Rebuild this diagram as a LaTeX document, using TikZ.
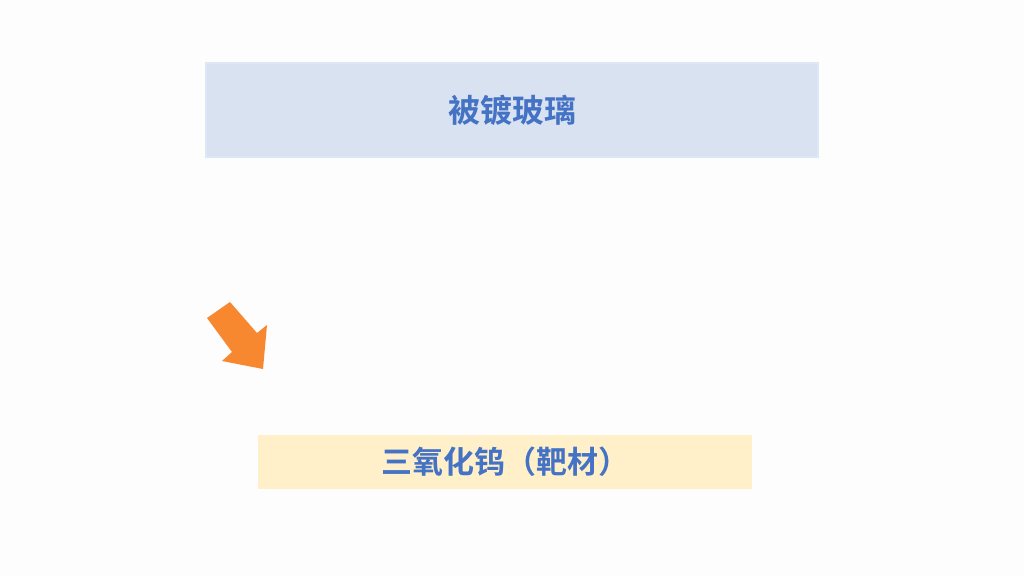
\documentclass[tikz,border=0pt]{standalone}
\usepackage{fontspec}
\usepackage{tikz}
\usetikzlibrary{positioning}
\newfontfamily\cjk{Noto Sans CJK SC}[BoldFont={Noto Sans CJK SC Bold}]
\definecolor{labelblue}{HTML}{4472C4}
\definecolor{glassfill}{HTML}{D9E2F1}
\definecolor{glassedge}{HTML}{DEE7F5}
\definecolor{targetfill}{HTML}{FFF0C9}
\definecolor{arroworange}{HTML}{F7882F}
\definecolor{pagebg}{HTML}{FDFDFD}

\begin{document}
\begin{tikzpicture}[x=1pt,y=-1pt]

	\tikzstyle glass box=[draw=glassedge, line width=2.5pt, fill=glassfill, minimum width=612pt, minimum height=94pt, inner sep=0pt];
	\tikzstyle target box=[fill=targetfill, minimum width=494pt, minimum height=54pt, inner sep=0pt];
	\tikzstyle box label=[text=labelblue, font=\cjk\bfseries\fontsize{32}{36}\selectfont];

	\fill[pagebg] (0,0) rectangle (1024,576);
	\useasboundingbox (0,0) rectangle (1024,576);

	\node[glass box] (glass) at (512,110) {};
	\node[box label] (glasslabel) at (glass.center) {被镀玻璃};

	\node[target box] (target) at (505,462) {};
	\node[box label, font=\cjk\bfseries\fontsize{31}{36}\selectfont] (targetlabel) at (target.center) {三氧化钨（靶材）};

	% arrow
	\fill[arroworange] (207,318) -- (230,302) -- (257,333) -- (267,325) -- (263,369) -- (222,361) -- (232,352) -- cycle;

\end{tikzpicture}
\end{document}
